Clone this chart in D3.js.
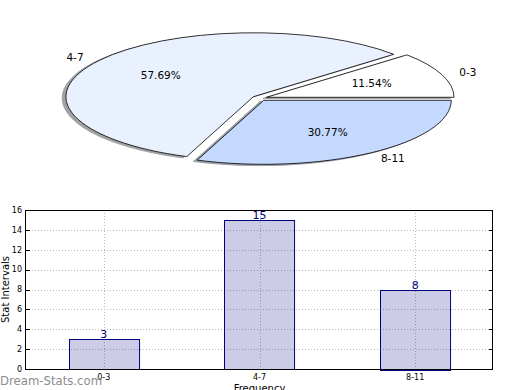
<!DOCTYPE html>
<html>
<head>
<meta charset="utf-8">
<script src="https://cdn.jsdelivr.net/npm/d3@7"></script>
<style>
  body { margin: 0; background: #fff; }
  svg { display: block; font-family: "DejaVu Sans", sans-serif; }
</style>
</head>
<body>
<div id="chart"></div>
<script>
var categories = ["0-3", "4-7", "8-11"],
    counts = [3, 15, 8],
    pieColors = ["#ffffff", "#eaf1fe", "#c5d9fe"],
    yTicks = [0, 2, 4, 6, 8, 10, 12, 14, 16];

var width = 520, height = 390;

var svg = d3.select("#chart").append("svg")
    .attr("width", width)
    .attr("height", height);

// ---- pie (matplotlib style: starts at 3 o'clock, counter-clockwise, squashed) ----
var cx = 259.5, cy = 98.2, rx = 187.5, ry = 64, explode = 0.04;
var total = d3.sum(counts);

var pie = d3.pie().sort(null)
    .startAngle(Math.PI / 2)
    .endAngle(Math.PI / 2 - 2 * Math.PI);
var arcs = pie(counts);
var arc = d3.arc().innerRadius(0).outerRadius(1);

function mid(d) { return (d.startAngle + d.endAngle) / 2; }
function ux(a) { return Math.sin(a); }
function uy(a) { return -Math.cos(a); }
function shade(c) { c = d3.rgb(c); return d3.rgb(c.r * 0.3, c.g * 0.3, c.b * 0.3); }

var pieG = svg.append("g");

// shadows first
pieG.selectAll(".shadow")
    .data(arcs)
  .enter().append("path")
    .attr("class", "shadow")
    .attr("transform", function(d) {
      var a = mid(d);
      return "translate(" + (cx - 0.02 * rx + explode * rx * ux(a)) + "," + (cy + 0.02 * ry + explode * ry * uy(a)) + ") scale(" + rx + "," + ry + ")";
    })
    .attr("d", arc)
    .attr("fill", function(d, i) { return shade(pieColors[i]); })
    .attr("stroke", function(d, i) { return shade(pieColors[i]); })
    .attr("stroke-width", 1)
    .attr("vector-effect", "non-scaling-stroke")
    .attr("opacity", 0.5);

pieG.selectAll(".wedge")
    .data(arcs)
  .enter().append("path")
    .attr("class", "wedge")
    .attr("transform", function(d) {
      var a = mid(d);
      return "translate(" + (cx + explode * rx * ux(a)) + "," + (cy + explode * ry * uy(a)) + ") scale(" + rx + "," + ry + ")";
    })
    .attr("d", arc)
    .attr("fill", function(d, i) { return pieColors[i]; })
    .attr("stroke", "#000")
    .attr("stroke-width", 0.8)
    .attr("vector-effect", "non-scaling-stroke");

// category labels at 1.1 radius
pieG.selectAll(".plabel")
    .data(arcs)
  .enter().append("text")
    .attr("class", "plabel")
    .attr("x", function(d) { return cx + (1.1 + explode) * rx * ux(mid(d)); })
    .attr("y", function(d) { return cy + (1.1 + explode) * ry * uy(mid(d)); })
    .attr("dy", "0.36em")
    .attr("text-anchor", function(d) { return ux(mid(d)) < 0 ? "end" : "start"; })
    .attr("font-size", "10.5px")
    .attr("fill", "#000")
    .text(function(d, i) { return categories[i]; });

// percentages at 0.6 radius
pieG.selectAll(".pct")
    .data(arcs)
  .enter().append("text")
    .attr("class", "pct")
    .attr("x", function(d) { return cx + (0.6 + explode) * rx * ux(mid(d)); })
    .attr("y", function(d) { return cy + (0.6 + explode) * ry * uy(mid(d)); })
    .attr("dy", "0.36em")
    .attr("text-anchor", "middle")
    .attr("font-size", "10.5px")
    .attr("fill", "#000")
    .text(function(d) { return (d.value / total * 100).toFixed(2) + "%"; });

// ---- bar chart ----
var pLeft = 26, pRight = 493, pTop = 210, pBottom = 369;

var x = d3.scaleBand()
    .domain(categories)
    .range([pLeft, pRight])
    .paddingInner(0.55)
    .paddingOuter(0.275);

var y = d3.scaleLinear()
    .domain([0, 16])
    .range([pBottom, pTop]);

var g = svg.append("g");

// dotted grid (shows through the translucent bars)
g.selectAll(".hgrid")
    .data(yTicks)
  .enter().append("line")
    .attr("class", "hgrid")
    .attr("x1", pLeft)
    .attr("x2", pRight)
    .attr("y1", function(d) { return Math.round(y(d)) + 0.5; })
    .attr("y2", function(d) { return Math.round(y(d)) + 0.5; })
    .attr("stroke", "#b8b8b8")
    .attr("stroke-dasharray", "1,2");

g.selectAll(".vgrid")
    .data(categories)
  .enter().append("line")
    .attr("class", "vgrid")
    .attr("x1", function(d) { return Math.round(x(d) + x.bandwidth() / 2) + 0.5; })
    .attr("x2", function(d) { return Math.round(x(d) + x.bandwidth() / 2) + 0.5; })
    .attr("y1", pTop)
    .attr("y2", pBottom)
    .attr("stroke", "#b8b8b8")
    .attr("stroke-dasharray", "1,2");

g.selectAll(".bar")
    .data(counts)
  .enter().append("rect")
    .attr("class", "bar")
    .attr("x", function(d, i) { return Math.round(x(categories[i])) + 0.5; })
    .attr("y", function(d) { return Math.round(y(d)) + 0.5; })
    .attr("width", x.bandwidth())
    .attr("height", function(d) { return Math.round(pBottom - y(d)); })
    .attr("fill", "#000080")
    .attr("fill-opacity", 0.2)
    .attr("stroke", "#000080")
    .attr("stroke-width", 1);

// left/right inward ticks
g.selectAll(".ltick")
    .data(yTicks)
  .enter().append("line")
    .attr("x1", pLeft).attr("x2", pLeft + 4)
    .attr("y1", function(d) { return Math.round(y(d)) + 0.5; })
    .attr("y2", function(d) { return Math.round(y(d)) + 0.5; })
    .attr("stroke", "#000");
g.selectAll(".rtick")
    .data(yTicks)
  .enter().append("line")
    .attr("x1", pRight - 4).attr("x2", pRight)
    .attr("y1", function(d) { return Math.round(y(d)) + 0.5; })
    .attr("y2", function(d) { return Math.round(y(d)) + 0.5; })
    .attr("stroke", "#000");

g.append("rect")
    .attr("x", pLeft - 0.5)
    .attr("y", pTop + 0.5)
    .attr("width", pRight - pLeft)
    .attr("height", pBottom - pTop)
    .attr("fill", "none")
    .attr("stroke", "#000")
    .attr("stroke-width", 1);

// y tick labels
g.selectAll(".ylab")
    .data(yTicks)
  .enter().append("text")
    .attr("x", pLeft - 4)
    .attr("y", function(d) { return y(d); })
    .attr("dy", "0.35em")
    .attr("text-anchor", "end")
    .attr("font-size", "8px")
    .text(function(d) { return d; });

// x tick labels
g.selectAll(".xlab")
    .data(categories)
  .enter().append("text")
    .attr("x", function(d) { return x(d) + x.bandwidth() / 2; })
    .attr("y", 380)
    .attr("text-anchor", "middle")
    .attr("font-size", "8px")
    .text(function(d) { return d; });

// value labels
g.selectAll(".val")
    .data(counts)
  .enter().append("text")
    .attr("x", function(d, i) { return x(categories[i]) + x.bandwidth() / 2; })
    .attr("y", function(d) { return y(d) - 1; })
    .attr("text-anchor", "middle")
    .attr("font-size", "11px")
    .attr("fill", "#000080")
    .text(function(d) { return d; });

// axis titles
g.append("text")
    .attr("transform", "translate(9," + ((pTop + pBottom) / 2) + ") rotate(-90)")
    .attr("text-anchor", "middle")
    .attr("font-size", "10px")
    .text("Stat Intervals");

g.append("text")
    .attr("x", (pLeft + pRight) / 2)
    .attr("y", 392)
    .attr("text-anchor", "middle")
    .attr("font-size", "10px")
    .text("Frequency");

// watermark
svg.append("text")
    .attr("x", 0)
    .attr("y", 385)
    .attr("font-family", "'DejaVu Sans Condensed', 'DejaVu Sans', sans-serif")
    .attr("font-size", "13px")
    .attr("fill", "#8c8c8c")
    .text("Dream-Stats.com");
</script>
</body>
</html>
